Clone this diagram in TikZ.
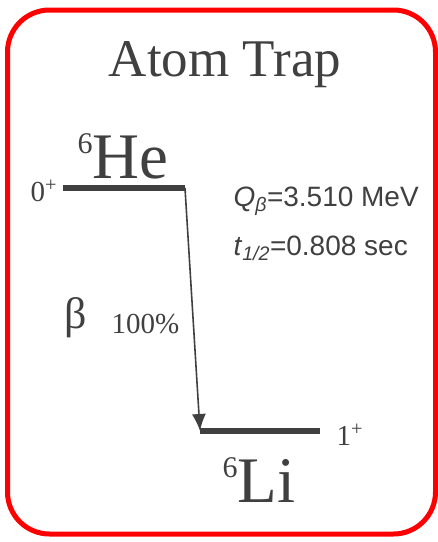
\documentclass[tikz,border=0pt]{standalone}
\usepackage{fontspec}
\setmainfont{Liberation Serif}
\newfontfamily\arialfont{Liberation Sans}
\usetikzlibrary{positioning,arrows.meta}
\definecolor{trapred}{HTML}{FF0000}
\definecolor{levgray}{HTML}{404040}
\newcommand{\nucl}[2]{\raisebox{25pt}{\fontsize{30}{30}\selectfont #1}#2}

\begin{document}
\begin{tikzpicture}[x=1pt, y=-1pt, text=levgray,
    level/.style={draw=levgray, line width=5.5pt},
    big/.style={anchor=base west, font=\fontsize{65}{70}\selectfont},
    spin/.style={anchor=base west, font=\fontsize{29}{32}\selectfont},
    info/.style={anchor=base west, font=\arialfont\fontsize{28}{32}\selectfont}]
  \useasboundingbox (0,0) rectangle (438,542);
  \draw[trapred, line width=5pt, rounded corners=42pt] (7.5,10) rectangle (435.5,534);
  \node[anchor=base, font=\fontsize{53}{60}\selectfont] (title) at (225,76) {Atom Trap};
  % levels
  \coordinate (heL) at (63,188);
  \coordinate (heR) at (185,188);
  \coordinate (liL) at (200,431);
  \coordinate (liR) at (320,431);
  \draw[level] (heL) -- (heR);
  \draw[level] (liL) -- (liR);
  \draw[levgray, line width=1.6pt, -{Latex[length=17pt,width=14pt]}] (heR) -- (liL);
  \node[big] (he) at (74,178) {\nucl{6}{He}};
  \node[big] (li) at (219,502) {\nucl{6}{Li}};
  \node[spin] (heSpin) at (27,201) {0\textsuperscript{+}};
  \node[spin] (liSpin) at (333,445) {1\textsuperscript{+}};
  \node[info] (qval) at (230,206) {\textit{Q}\textsubscript{\textit{β}}=3.510 MeV};
  \node[info] (half) at (230,255) {\textit{t}\textsubscript{\textit{1/2}}=0.808 sec};
  \node[anchor=base west, font=\fontsize{44}{48}\selectfont] (beta) at (61,328) {β};
  \node[spin] (branch) at (108,333) {100\%};
\end{tikzpicture}
\end{document}
